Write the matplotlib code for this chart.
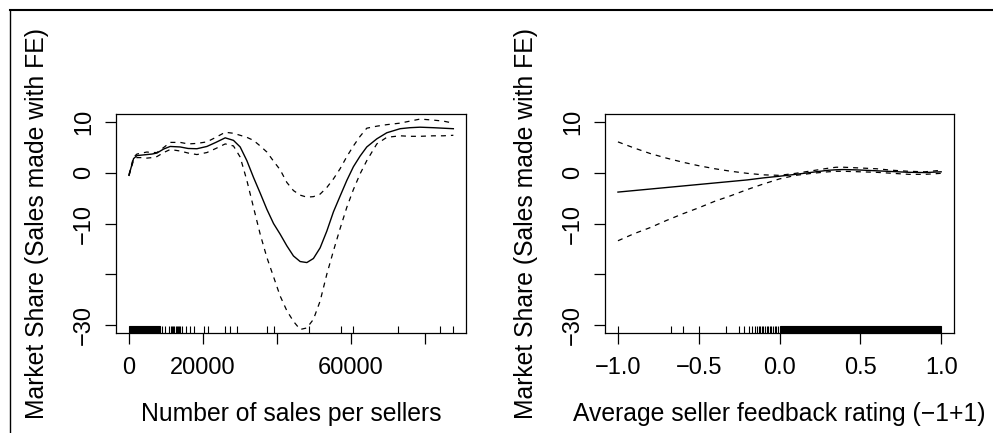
import matplotlib
matplotlib.use("Agg")
import matplotlib.pyplot as plt
from matplotlib.lines import Line2D

# left panel: smooth term for number of sales per seller
sales_x = [0, 1250, 2160, 3500, 4860, 6200, 7570, 9400, 11160, 13860, 16000,
           18380, 21080, 23500, 26030, 28270, 30080, 31890, 33680, 35490,
           37300, 39100, 40890, 42700, 44490, 46300, 48110, 49890, 51700,
           53510, 55300, 57100, 58920, 60700, 62510, 64320, 67030, 69730,
           73330, 76000, 78730, 82300, 85000, 87730]
sales_fit = [-0.5, 2.8, 3.4, 3.5, 3.6, 3.7, 3.9, 4.7, 5.2, 5.1, 4.8,
             4.75, 5.2, 6.0, 6.9, 6.4, 5.1, 2.4, -0.9, -4.0,
             -7.2, -10.0, -12.1, -14.4, -16.4, -17.5, -17.7, -16.9, -14.8,
             -11.5, -7.7, -4.6, -1.5, 1.2, 3.3, 5.1, 6.7, 7.9,
             8.7, 8.9, 9.0, 8.9, 8.8, 8.7]
sales_upper = [-0.4, 3.1, 3.7, 3.9, 4.1, 4.0, 4.0, 5.0, 6.0, 6.0, 5.7,
               5.8, 6.1, 7.0, 8.0, 7.8, 7.4, 7.0, 6.4, 5.3,
               4.1, 2.3, 0.6, -1.9, -3.5, -4.4, -4.8, -4.7, -4.2,
               -2.9, -1.2, 0.8, 3.2, 5.3, 7.2, 8.8, 9.2, 9.5,
               9.8, 10.2, 10.6, 10.4, 10.2, 9.8]
sales_lower = [-0.6, 2.5, 3.0, 3.0, 2.9, 3.0, 3.2, 4.0, 4.6, 4.3, 3.9,
               3.6, 4.0, 4.8, 5.7, 5.3, 3.1, -1.5, -6.8, -12.1,
               -16.7, -20.5, -24.3, -27.2, -29.3, -30.9, -30.6, -28.9, -25.3,
               -20.0, -15.4, -11.0, -6.8, -3.3, -0.2, 2.4, 5.7, 7.0,
               7.3, 7.2, 7.2, 7.3, 7.3, 7.4]
sales_rug = [8900, 9800, 10700, 11400, 11700, 12000, 12300, 12600, 12900,
             13200, 13500, 13800, 14320, 15400, 16570, 17650, 20170, 21250,
             26000, 27300, 29300, 37300, 39300, 48800, 57300, 60700, 72700,
             84100, 87600]
sales_rug_dense = [(0, 8300)]

# right panel: smooth term for average seller feedback rating
fb_x = [-1.0, -0.9, -0.8, -0.7, -0.6, -0.5, -0.4, -0.3, -0.2, -0.1, 0.0,
        0.1, 0.2, 0.3, 0.35, 0.4, 0.5, 0.6, 0.7, 0.8, 0.9, 1.0]
fb_fit = [-3.8, -3.5, -3.2, -2.9, -2.6, -2.3, -2.0, -1.7, -1.4, -1.0, -0.67,
          -0.3, 0.1, 0.5, 0.6, 0.65, 0.55, 0.4, 0.25, 0.1, 0.05, 0.2]
fb_upper = [6.1, 4.9, 3.8, 2.9, 2.1, 1.4, 0.8, 0.3, -0.1, -0.4, -0.5,
            -0.1, 0.4, 0.9, 1.1, 1.1, 0.95, 0.8, 0.5, 0.3, 0.2, 0.5]
fb_lower = [-13.4, -12.0, -10.8, -9.4, -8.1, -6.9, -5.6, -4.5, -3.3, -2.2, -1.2,
            -0.5, -0.1, 0.2, 0.3, 0.3, 0.2, 0.1, -0.1, -0.3, -0.3, -0.1]
fb_rug = [-1.0, -0.67, -0.60, -0.50, -0.33, -0.25, -0.22, -0.19, -0.17,
          -0.15, -0.14, -0.13, -0.12, -0.11, -0.10, -0.09, -0.08, -0.07,
          -0.06, -0.05, -0.04, -0.03, -0.02, -0.01]
fb_rug_dense = [(0.0, 1.0)]

ylabel = "Market Share (Sales made with FE)"
yticks = [10, 0, -10, -20, -30]
ytick_labels = ["10", "0", "\u221210", "", "\u221230"]

plt.rcParams["font.family"] = ["Liberation Sans", "DejaVu Sans"]

fig = plt.figure(figsize=(9.93, 4.33), dpi=100)
ax1 = fig.add_axes([0.1168, 0.2309, 0.3525, 0.5058])
ax2 = fig.add_axes([0.6093, 0.2309, 0.3515, 0.5058])


def draw_panel(ax, x, fit, upper, lower, rug, dense, xlim, xticks, xtick_labels, xlabel):
    ax.plot(x, fit, color="black", lw=1.0)
    ax.plot(x, upper, color="black", lw=0.9, linestyle=(0, (4, 4)))
    ax.plot(x, lower, color="black", lw=0.9, linestyle=(0, (4, 4)))
    # rug along the bottom
    ax.vlines(rug, 0, 0.03, transform=ax.get_xaxis_transform(), color="black", lw=0.8)
    for lo, hi in dense:
        ax.axvspan(lo, hi, ymin=0, ymax=0.03, color="black", lw=0.8)

    ax.set_xlim(xlim)
    ax.set_ylim(-31.6, 11.6)
    ax.set_xticks(xticks)
    ax.set_xticklabels(xtick_labels)
    ax.set_yticks(yticks)
    ax.set_yticklabels(ytick_labels)
    ax.tick_params(direction="out", length=8, width=0.9, labelsize=17)
    ax.tick_params(axis="x", pad=9)
    ax.tick_params(axis="y", labelrotation=90, pad=7)
    for lab in ax.get_yticklabels():
        lab.set_va("center")
    for sp in ax.spines.values():
        sp.set_linewidth(0.9)

    ax.set_xlabel(xlabel, fontsize=17.8, va="center")
    ax.xaxis.set_label_coords(0.5, -0.37)
    ax.set_ylabel(ylabel, fontsize=17.8, va="center")
    ax.yaxis.set_label_coords(-0.226, 0.5)


draw_panel(ax1, sales_x, sales_fit, sales_upper, sales_lower, sales_rug,
           sales_rug_dense, (-3506, 91156), [0, 20000, 40000, 60000, 80000],
           ["0", "20000", "", "60000", ""], "Number of sales per sellers")
draw_panel(ax2, fb_x, fb_fit, fb_upper, fb_lower, fb_rug, fb_rug_dense,
           (-1.08, 1.08), [-1.0, -0.5, 0.0, 0.5, 1.0],
           ["\u22121.0", "\u22120.5", "0.0", "0.5", "1.0"],
           "Average seller feedback rating (\u22121+1)")

# frame around the figure (left and top edges visible)
fig.add_artist(Line2D([9.5 / 993, 9.5 / 993], [0, 1 - 10 / 433], color="black", lw=1.0))
fig.add_artist(Line2D([9.5 / 993, 1], [1 - 10 / 433, 1 - 10 / 433], color="black", lw=1.5))

fig.savefig("out.png", dpi=100)
